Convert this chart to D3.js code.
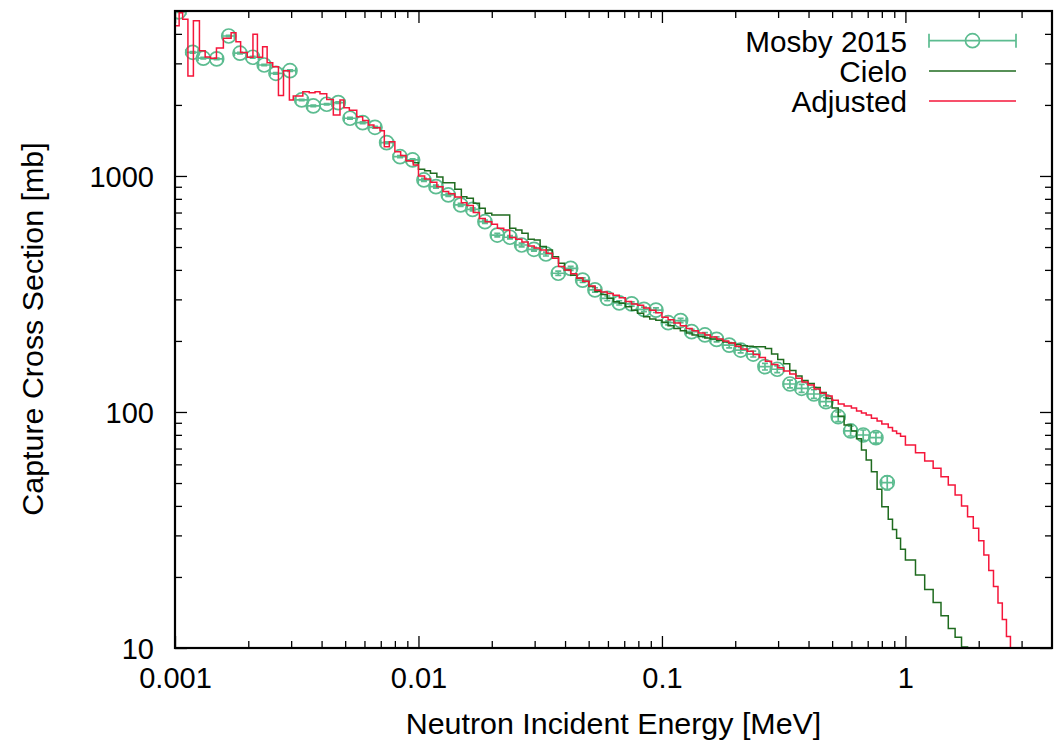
<!DOCTYPE html>
<html><head><meta charset="utf-8">
<script src="https://cdn.jsdelivr.net/npm/d3@7"></script>
<style>
body{margin:0;background:#fff}
svg{display:block}
text{font-family:"Liberation Sans",Arial,Helvetica,sans-serif;fill:#000}
</style>
</head><body>
<svg id="chart" width="1055" height="741"></svg>
<script>
// ---------------- data ----------------
// histogram bin edges (MeV), shared by the two evaluations
const binEdges = [
  0.00100,0.00104,0.001075,0.00113,0.00119,0.00126,0.00133,0.00140,0.00148,0.00158,
  0.00170,0.00178,0.00186,0.00198,0.00209,0.00218,0.00229,0.00239,0.00252,0.00266,
  0.00279,0.00295,0.00306,0.00335,0.00356,0.00376,0.00394,0.00420,0.00447,0.00476,
  0.00494,0.00520,0.00558,0.00590,0.00622,0.00656,0.00695,0.00724,0.00759,0.00800,
  0.00845,0.00889,0.00952,
  0.0100,0.0106,0.0112,0.0119,0.0126,0.0133,0.0141,0.0150,0.0158,0.0168,
  0.0178,0.0188,0.0200,0.0211,0.0224,0.0237,0.0251,0.0266,0.0282,0.0299,
  0.0316,0.0335,0.0355,0.0376,0.0398,0.0422,0.0447,0.0473,0.0501,0.0531,
  0.0562,0.0596,0.0631,0.0668,0.0708,0.0750,0.0794,0.0841,0.0891,0.0944,
  0.100,0.106,0.112,0.119,0.126,0.133,0.141,0.150,0.158,0.168,
  0.178,0.188,0.200,0.211,0.224,0.237,0.251,0.266,0.282,0.299,
  0.316,0.335,0.355,0.376,0.398,0.422,0.447,0.473,
  0.500,0.530,0.560,0.600,0.630,0.660,0.690,0.725,0.765,0.800,
  0.850,0.885,0.920,0.955,
  1.0,1.1,1.2,1.3,1.4,1.5,1.6,1.7,1.8,1.9,2.0,2.1,2.2,2.3,2.4,2.5,2.6,2.7,2.8
];
// capture cross section per bin (mb)
const adjustedXS = [
  4330,4920,4610,2650,4550,3395,3193,3155,3483,3832,4048,3708,3336,3184,3985,3184,3530,3020,2900,2190,
  2794,2099,2180,2277,2250,2277,2230,2110,1814,2099,1947,1900,1783,1720,1644,1600,1556,1331,1396,1268,
  1220,1161,1113,
  1000,970,940,900,860,840,815,770,750,700,660,640,625,600,590,548,540,525,505,495,
  486,470,448,413,400,385,370,358,342,328,322,318,312,305,294,287,283,276,270,263,
  252,246,238,232,226,221,216,212,208,204,200,196,190,185,181,175,170,164,159,154,
  149,145,139,134,130,125,120,117,
  112,108,106,104,101,99,97,94,91.5,89,86,83,81,79,
  72.5,67.2,62,57.7,53.2,49.1,44.5,40.0,36.0,32.2,28.5,24.8,21.3,18.2,15.5,13.2,11.2,9.0
];
// Cielo coincides with Adjusted (hidden beneath it) below ~9 keV
const cieloXS = [
  null,null,null,null,null,null,null,null,null,null,null,null,null,null,null,null,null,null,null,null,
  null,null,null,null,null,null,null,null,null,null,null,null,null,null,null,null,null,null,null,null,
  null,1161,1139,
  1068,1053,1027,990,937,937,878,817,804,766,730,695,683,683,683,600,590,572,539,535,
  502,486,455,427,400,380,369,357,340,324,315,303,293,289,279,270,262,253,248,245,
  240,232,226,221,216,212,209,206,204,201,198,196,193,191,190,189,189,186,176,167,
  160,150,142,136,132,127,121,114,
  104,96,88,83,77,69,62.6,55.8,47,39.7,35.1,31.8,29.2,26.2,
  23.6,20.4,17.7,15.6,13.7,12.1,11.1,10.1,9.0,null,null,null,null,null,null,null,null,null
];
// Mosby 2015 measurement
const mosbyE = [
  0.001038,0.001182,0.001307,0.001483,0.001662,0.001849,0.002085,0.002325,0.002598,0.002967,
  0.003314,0.003698,0.004198,0.004684,0.005233,0.0059,0.006628,0.0074,0.0084,0.00946,
  0.01053,0.0118,0.01326,0.0149,0.01669,0.01875,0.02107,0.02376,0.02653,0.02981,
  0.03339,0.03751,0.04217,0.04724,0.05307,0.05962,0.06677,0.0751,0.08436,0.09449,
  0.1061,0.1193,0.1324,0.1502,0.1677,0.1889,0.2105,0.2371,0.2649,0.2975,
  0.3355,0.3747,0.4209,0.4716,0.5297,0.5957,0.6709,0.7568,0.842
];
const mosbyXS = [
  4960,3342,3155,3133,3917,3312,3184,2953,2723,2793,
  2099,1980,2013,2045,1756,1682,1608,1384,1207,1169,
  962,901,831,754,722,640,562,550,510,489,
  467,387,406,362,329,303,290,287,272,270,
  239,244,219,212,203,192,183,176,155.6,151.7,
  131.4,126,119.2,110.6,95.5,83.1,79.9,77.8,50.2
];
const mosbyErr = [
  25,25,25,25,25,25,25,20,20,20,
  15,15,15,15,14,14,14,12,12,12,
  14,13,12,11,11,10,10,9,9,9,
  9,8,8,8,7,7,6,6,6,6,
  5,5,5,5,5,5,5,5,5,5,
  5,5,5,4.5,4.5,4,4,4,3.4
];
const xTickValues = [0.001,0.01,0.1,1];
const xTickLabels = ["0.001","0.01","0.1","1"];
const yTickValues = [10,100,1000];
const yTickLabels = ["10","100","1000"];
const legendLabels = ["Mosby 2015","Cielo","Adjusted"];

// ---------------- layout ----------------
const m = {left:175, right:1052, top:11, bottom:648};
const colMosby = "#5cbc90", colCielo = "#1f6b1f", colAdj = "#f5163a";
const svg = d3.select("#chart");

const x = d3.scaleLog().domain([0.001,4]).range([m.left,m.right]);
const y = d3.scaleLog().domain([10,5000]).range([m.bottom,m.top]);

svg.append("defs").append("clipPath").attr("id","clip")
  .append("rect").attr("x",m.left).attr("y",m.top)
  .attr("width",m.right-m.left).attr("height",m.bottom-m.top);

// minor tick positions: 2..9 times each decade
const xMinor = [], yMinor = [];
for (let d = 0.001; d < 4; d *= 10) for (let k = 2; k <= 9; k++) if (d*k < 4) xMinor.push(d*k);
for (let d = 10; d < 5000; d *= 10) for (let k = 2; k <= 9; k++) if (d*k < 5000) yMinor.push(d*k);

const axB = d3.axisBottom(x).tickValues(xTickValues).tickFormat((d,i)=>xTickLabels[i]).tickSizeInner(-12).tickSizeOuter(0).tickPadding(40);
const axBm = d3.axisBottom(x).tickValues(xMinor).tickFormat("").tickSizeInner(-7).tickSizeOuter(0);
const axT = d3.axisTop(x).tickValues(xTickValues).tickFormat("").tickSizeInner(-12).tickSizeOuter(0);
const axTm = d3.axisTop(x).tickValues(xMinor).tickFormat("").tickSizeInner(-7).tickSizeOuter(0);
const axL = d3.axisLeft(y).tickValues(yTickValues).tickFormat((d,i)=>yTickLabels[i]).tickSizeInner(-12).tickSizeOuter(0).tickPadding(21);
const axLm = d3.axisLeft(y).tickValues(yMinor).tickFormat("").tickSizeInner(-7).tickSizeOuter(0);
const axR = d3.axisRight(y).tickValues(yTickValues).tickFormat("").tickSizeInner(-12).tickSizeOuter(0);
const axRm = d3.axisRight(y).tickValues(yMinor).tickFormat("").tickSizeInner(-7).tickSizeOuter(0);

function styleAxis(g){
  g.select(".domain").remove();
  g.selectAll(".tick line").attr("stroke","#000").attr("stroke-width",1.3);
  g.selectAll(".tick text").style("font-size","29px").attr("fill","#000");
}
const gB = svg.append("g").attr("transform",`translate(0,${m.bottom})`).call(axB).call(styleAxis);
svg.append("g").attr("transform",`translate(0,${m.bottom})`).call(axBm).call(styleAxis);
svg.append("g").attr("transform",`translate(0,${m.top})`).call(axT).call(styleAxis);
svg.append("g").attr("transform",`translate(0,${m.top})`).call(axTm).call(styleAxis);
const gL = svg.append("g").attr("transform",`translate(${m.left},0)`).call(axL).call(styleAxis);
svg.append("g").attr("transform",`translate(${m.left},0)`).call(axLm).call(styleAxis);
svg.append("g").attr("transform",`translate(${m.right},0)`).call(axR).call(styleAxis);
svg.append("g").attr("transform",`translate(${m.right},0)`).call(axRm).call(styleAxis);
gB.selectAll(".tick text").attr("dy", null);
gL.selectAll(".tick text").attr("dy", "0.35em");

// step curves (skip leading / trailing empty bins)
function stepPoints(vals){
  const pts = [];
  let last = -1;
  for (let i = 0; i < vals.length; i++) {
    if (vals[i] == null) { if (pts.length) break; else continue; }
    pts.push([binEdges[i], vals[i]]);
    last = i;
  }
  pts.push([binEdges[last+1], vals[last]]);
  return pts;
}
const line = d3.line().x(d=>x(d[0])).y(d=>y(Math.max(d[1],3))).curve(d3.curveStepAfter);
const plot = svg.append("g").attr("clip-path","url(#clip)");

// Mosby points with error bars
const mg = plot.append("g").attr("stroke",colMosby).attr("fill","none").attr("stroke-width",1.7);
const px = mosbyE.map(e=>x(e));
mosbyE.forEach((e,i)=>{
  const cx = px[i], cy = y(mosbyXS[i]);
  const hl = i>0 ? (cx-px[i-1])/2 : (px[i+1]-cx)/2;
  const hr = i<px.length-1 ? (px[i+1]-cx)/2 : (cx-px[i-1])/2;
  const yt = y(mosbyXS[i]+mosbyErr[i]), yb = y(mosbyXS[i]-mosbyErr[i]);
  const c = 3;
  mg.append("path").attr("d",
    `M${cx-hl},${cy}H${cx+hr}M${cx-hl},${cy-c}V${cy+c}M${cx+hr},${cy-c}V${cy+c}`+
    `M${cx},${yt}V${yb}M${cx-c},${yt}H${cx+c}M${cx-c},${yb}H${cx+c}`);
  mg.append("circle").attr("cx",cx).attr("cy",cy).attr("r",7);
});

plot.append("path").attr("d",line(stepPoints(cieloXS))).attr("fill","none").attr("stroke",colCielo).attr("stroke-width",1.5);
plot.append("path").attr("d",line(stepPoints(adjustedXS))).attr("fill","none").attr("stroke",colAdj).attr("stroke-width",1.5);

// frame
svg.append("rect").attr("x",m.left).attr("y",m.top).attr("width",m.right-m.left).attr("height",m.bottom-m.top)
  .attr("fill","none").attr("stroke","#000").attr("stroke-width",2.2);

// axis titles
svg.append("text").attr("x",(m.left+m.right)/2).attr("y",734).attr("text-anchor","middle")
  .style("font-size","30.4px").text("Neutron Incident Energy [MeV]");
svg.append("text").attr("transform","translate(43,329) rotate(-90)").attr("text-anchor","middle")
  .style("font-size","30.4px").text("Capture Cross Section [mb]");

// legend
const lg = svg.append("g");
const rows = [40.7,71,101];
const lx0 = 929, lx1 = 1016;
legendLabels.forEach((t,i)=>{
  lg.append("text").attr("x",907).attr("y",rows[i]+11).attr("text-anchor","end").style("font-size","29.7px").text(t);
});
lg.append("path").attr("d",`M${lx0},${rows[0]}H${lx1}M${lx0},${rows[0]-7}V${rows[0]+7}M${lx1},${rows[0]-7}V${rows[0]+7}`)
  .attr("stroke",colMosby).attr("stroke-width",1.7).attr("fill","none");
lg.append("circle").attr("cx",(lx0+lx1)/2).attr("cy",rows[0]).attr("r",7).attr("stroke",colMosby).attr("stroke-width",1.7).attr("fill","none");
lg.append("line").attr("x1",lx0).attr("x2",lx1).attr("y1",rows[1]).attr("y2",rows[1]).attr("stroke",colCielo).attr("stroke-width",1.5);
lg.append("line").attr("x1",lx0).attr("x2",lx1).attr("y1",rows[2]).attr("y2",rows[2]).attr("stroke",colAdj).attr("stroke-width",1.5);
</script>
</body></html>
